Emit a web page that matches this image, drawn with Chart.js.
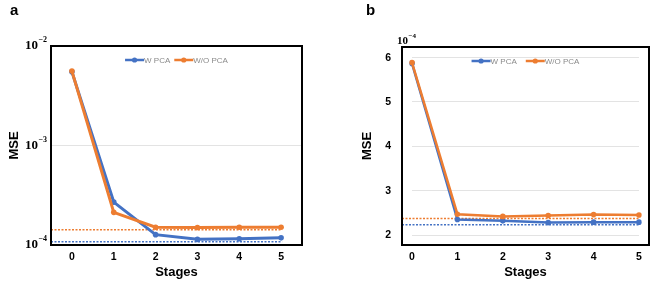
<!DOCTYPE html>
<html>
<head>
<meta charset="utf-8">
<script src="https://cdn.jsdelivr.net/npm/chart.js@4/dist/chart.umd.min.js"></script>
<style>
  html, body { margin: 0; padding: 0; background: #fff; }
  #wrap { position: relative; width: 665px; height: 287px; }
  canvas { position: absolute; top: 0; }
</style>
</head>
<body>
<div id="wrap">
  <canvas id="ca" width="332" height="287" style="left:0"></canvas>
  <canvas id="cb" width="332" height="287" style="left:333px"></canvas>
</div>
<script>
// ---- data ----
const stages = ['0', '1', '2', '3', '4', '5'];
const seriesNames = ['W PCA', 'W/O PCA'];

// panel a (log scale, raw MSE)
const mseA_wPCA  = [5.5e-3, 2.7e-4, 1.27e-4, 1.14e-4, 1.155e-4, 1.18e-4];
const mseA_woPCA = [5.6e-3, 2.13e-4, 1.51e-4, 1.50e-4, 1.51e-4, 1.51e-4];
const baseA_wPCA  = 1.08e-4;
const baseA_woPCA = 1.42e-4;
const ticksA = [1e-4, 1e-3, 1e-2];
const tickExpA = ['\u22124', '\u22123', '\u22122'];   // exponents of 10

// panel b (linear, units of 1e-4)
const mseB_wPCA  = [5.87, 2.35, 2.32, 2.28, 2.29, 2.29];
const mseB_woPCA = [5.89, 2.47, 2.42, 2.44, 2.46, 2.45];
const baseB_wPCA  = 2.23;
const baseB_woPCA = 2.37;
const ticksB = [2, 3, 4, 5, 6];
const unitExpB = '\u22124';

const BLUE = '#4472C4';
const ORANGE = '#ED7D31';
const SERIF = '"Liberation Serif", "DejaVu Serif", serif';

function drawPow(ctx, x, yMid, exp, size, align) {
  // draws "10" with a raised exponent; x is right edge if align==='right', else left edge
  ctx.save();
  ctx.fillStyle = '#000';
  ctx.textBaseline = 'middle';
  ctx.textAlign = 'left';
  ctx.font = 'bold ' + size + 'px ' + SERIF;
  const wb = ctx.measureText('10').width;
  const es = Math.round(size * 0.62);
  ctx.font = 'bold ' + es + 'px ' + SERIF;
  const we = ctx.measureText(exp).width;
  const left = align === 'right' ? x - wb - we - 0.5 : x;
  ctx.font = 'bold ' + size + 'px ' + SERIF;
  ctx.fillText('10', left, yMid + 1);
  ctx.font = 'bold ' + es + 'px ' + SERIF;
  ctx.fillText(exp, left + wb + 0.5, yMid - size * 0.36);
  ctx.restore();
}

function makePlugin(cfg) {
  return {
    id: 'deco',
    beforeDatasetsDraw(chart) {
      const {ctx, chartArea: ca, scales} = chart;
      ctx.save();
      ctx.lineWidth = 1.5;
      ctx.setLineDash([2, 1.5]);
      const x0 = ca.left - cfg.borderPad;
      const x1 = scales.x.getPixelForValue(stages.length - 1) + 1;
      [[cfg.baseW, BLUE], [cfg.baseWo, ORANGE]].forEach(([v, c]) => {
        const y = scales.y.getPixelForValue(v);
        ctx.strokeStyle = c;
        ctx.beginPath(); ctx.moveTo(x0, y); ctx.lineTo(x1, y); ctx.stroke();
      });
      ctx.restore();
    },
    afterDraw(chart) {
      const {ctx, chartArea: ca, scales} = chart;
      ctx.save();
      // frame
      ctx.strokeStyle = '#000';
      ctx.lineWidth = 2;
      ctx.strokeRect(ca.left - cfg.borderPad, ca.top, ca.right - ca.left + 2 * cfg.borderPad, ca.bottom - ca.top);
      // legend
      ctx.font = '8px "Liberation Sans", Arial, sans-serif';
      ctx.textBaseline = 'middle';
      const lineW = 19, gap = cfg.legendGap;
      const items = [[seriesNames[0], BLUE], [seriesNames[1], ORANGE]];
      let total = 0;
      items.forEach(([t]) => total += lineW + ctx.measureText(t).width);
      total += gap;
      let x = (ca.left + ca.right) / 2 - total / 2;
      const y = ca.top + 14;
      items.forEach(([t, c]) => {
        ctx.strokeStyle = c; ctx.fillStyle = c; ctx.lineWidth = 2.5; ctx.setLineDash([]);
        ctx.beginPath(); ctx.moveTo(x, y); ctx.lineTo(x + lineW, y); ctx.stroke();
        ctx.beginPath(); ctx.arc(x + lineW / 2, y, 2.6, 0, Math.PI * 2); ctx.fill();
        ctx.fillStyle = '#8a8a8a';
        ctx.fillText(t, x + lineW, y + 0.5);
        x += lineW + ctx.measureText(t).width + gap;
      });
      // panel letter
      ctx.fillStyle = '#000';
      ctx.font = 'bold 15px "Liberation Sans", Arial, sans-serif';
      ctx.textBaseline = 'alphabetic';
      ctx.fillText(cfg.letter, cfg.letterX, 15);
      ctx.restore();
      // power-of-ten tick labels (panel a)
      if (cfg.powTicks) {
        scales.y.ticks.forEach((t) => {
          const i = ticksA.indexOf(t.value);
          if (i < 0) return;
          drawPow(ctx, ca.left - 4, scales.y.getPixelForValue(t.value) - 1, tickExpA[i], 13, 'right');
        });
      }
      if (cfg.unitExp) {
        drawPow(ctx, ca.left - 15, 40, cfg.unitExp, 11, 'left');
      }
    }
  };
}

function dsets(w, wo, lw) {
  return [
    { label: seriesNames[0], data: w, borderColor: BLUE, backgroundColor: BLUE,
      borderWidth: lw, pointRadius: 2.8, pointBorderWidth: 0, pointHoverRadius: 2.8, order: 1, tension: 0 },
    { label: seriesNames[1], data: wo, borderColor: ORANGE, backgroundColor: ORANGE,
      borderWidth: lw, pointRadius: 2.8, pointBorderWidth: 0, pointHoverRadius: 2.8, order: 0, tension: 0 }
  ];
}

const titleFont = { family: '"Liberation Sans", Arial, sans-serif', size: 13, weight: 'bold' };
const tickFont = { family: '"Liberation Sans", Arial, sans-serif', size: 10.5, weight: 'bold' };

// ---- panel a ----
new Chart(document.getElementById('ca'), {
  type: 'line',
  data: { labels: stages, datasets: dsets(mseA_wPCA, mseA_woPCA, 3) },
  options: {
    responsive: false, animation: false,
    layout: { padding: { left: 0, right: 30, top: 46, bottom: 0 } },
    plugins: { legend: { display: false }, tooltip: { enabled: false } },
    scales: {
      x: {
        offset: true,
        grid: { display: false, drawTicks: false },
        border: { display: false },
        ticks: { color: '#000', font: tickFont, padding: 6 },
        title: { display: true, text: 'Stages', color: '#000', font: titleFont, padding: { top: 0, bottom: 7 } },
        afterFit(s) { s.height = 42; }
      },
      y: {
        type: 'logarithmic', min: 1e-4, max: 1e-2,
        afterBuildTicks(s) { s.ticks = ticksA.map(v => ({ value: v })); },
        grid: { color: '#e3e3e3', drawTicks: false },
        border: { display: false },
        ticks: { display: false },
        title: { display: true, text: 'MSE', color: '#000', font: titleFont, padding: { top: 7, bottom: 0 } },
        afterFit(s) { s.width = 51; }
      }
    }
  },
  plugins: [makePlugin({ baseW: baseA_wPCA, baseWo: baseA_woPCA, borderPad: 0, legendGap: 4, letter: 'a', letterX: 10, powTicks: true })]
});

// ---- panel b ----
new Chart(document.getElementById('cb'), {
  type: 'line',
  data: { labels: stages, datasets: dsets(mseB_wPCA, mseB_woPCA, 2.5) },
  options: {
    responsive: false, animation: false,
    layout: { padding: { left: 0, right: 26, top: 47, bottom: 0 } },
    plugins: { legend: { display: false }, tooltip: { enabled: false } },
    scales: {
      x: {
        offset: false,
        grid: { display: false, drawTicks: false },
        border: { display: false },
        ticks: { color: '#000', font: tickFont, padding: 6 },
        title: { display: true, text: 'Stages', color: '#000', font: titleFont, padding: { top: 0, bottom: 7 } },
        afterFit(s) { s.height = 42; }
      },
      y: {
        type: 'linear', min: 1.775, max: 6.24,
        afterBuildTicks(s) { s.ticks = ticksB.map(v => ({ value: v })); },
        grid: { color: '#e3e3e3', drawTicks: false },
        border: { display: false },
        ticks: { color: '#000', padding: 21, font: tickFont },
        title: { display: true, text: 'MSE', color: '#000', font: titleFont, padding: { top: 27, bottom: 0 } },
        afterFit(s) { s.width = 79; }
      }
    }
  },
  plugins: [makePlugin({ baseW: baseB_wPCA, baseWo: baseB_woPCA, borderPad: 10, legendGap: 9, letter: 'b', letterX: 33, unitExp: unitExpB })]
});
</script>
</body>
</html>
